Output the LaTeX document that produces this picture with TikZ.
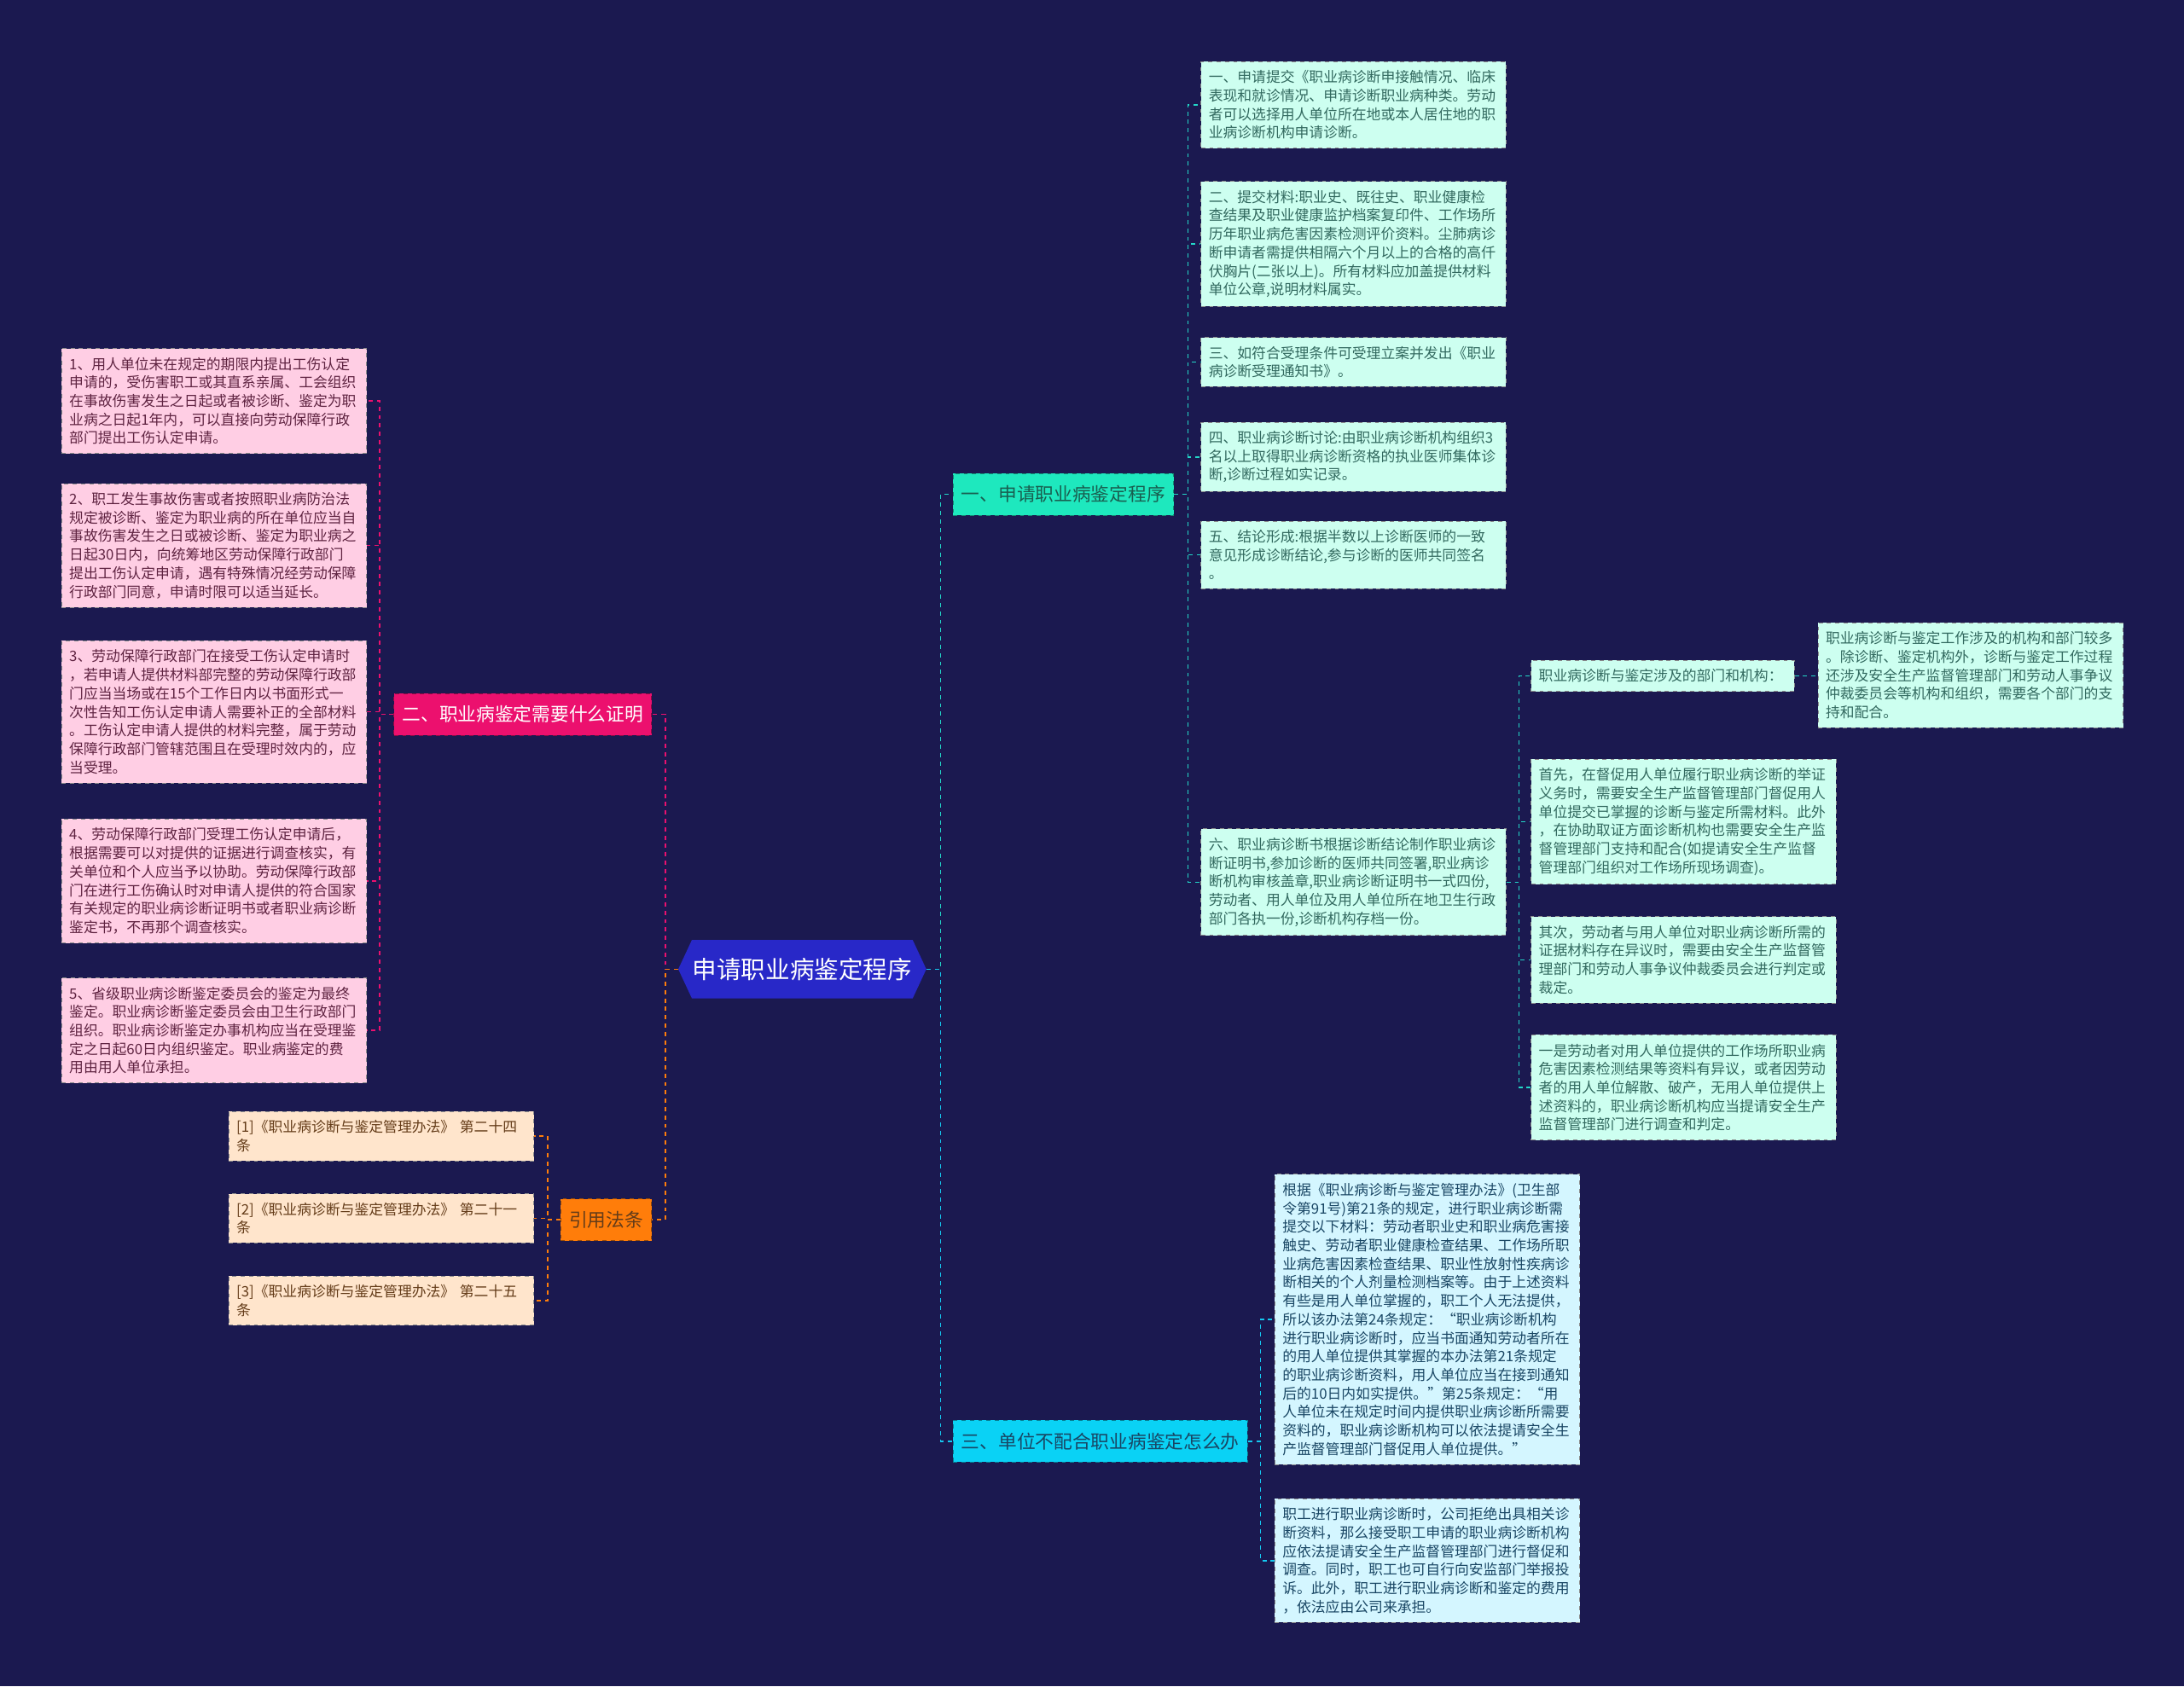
\documentclass[tikz,border=0pt]{standalone}
\usepackage{fontspec}
\setmainfont{Noto Sans CJK SC}
\usetikzlibrary{shapes.symbols}
\definecolor{bgnavy}{RGB}{27,25,80}
\definecolor{rootblue}{RGB}{40,40,200}
\definecolor{tealfill}{RGB}{30,232,190}
\definecolor{tealtext}{RGB}{25,95,80}
\definecolor{tealleaf}{RGB}{205,255,240}
\definecolor{leaftext}{RGB}{50,105,95}
\definecolor{tealline}{RGB}{35,215,200}
\definecolor{pinkfill}{RGB}{236,16,110}
\definecolor{pinkleaf}{RGB}{255,206,228}
\definecolor{pinktext}{RGB}{95,35,65}
\definecolor{orangefill}{RGB}{255,125,10}
\definecolor{peachleaf}{RGB}{255,229,204}
\definecolor{browntext}{RGB}{100,60,25}
\definecolor{cyanfill}{RGB}{10,210,245}
\definecolor{cyanleaf}{RGB}{212,246,255}
\definecolor{cyantext}{RGB}{25,70,100}
\definecolor{cyanline}{RGB}{20,200,240}

\begin{document}
\begin{tikzpicture}[x=1pt, y=-1pt]
    \tikzstyle{root}=[signal, signal to=east and west, signal pointer angle=130, fill=rootblue, text=white, font=\fontsize{17.5}{20}\selectfont, minimum height=42pt, inner xsep=0.5pt]
    \tikzstyle{topic}=[draw, dashed, rectangle, minimum height=30pt, inner xsep=6pt, inner ysep=0pt, line width=0.5pt, font=\fontsize{13.3}{16}\selectfont]
    \tikzstyle{leaf}=[draw=black!45, dashed, rectangle, anchor=north west, text width=208pt, inner xsep=5.5pt, inner ysep=6.3pt, line width=0.5pt, align=left, font=\fontsize{10.3}{13.3}\selectfont]
    \tikzstyle{tealbox}=[leaf, fill=tealleaf, text=leaftext]
    \tikzstyle{cyanbox}=[leaf, fill=cyanleaf, text=cyantext]
    \tikzstyle{pinkbox}=[leaf, fill=pinkleaf, text=pinktext]
    \tikzstyle{peachbox}=[leaf, fill=peachleaf, text=browntext]
    \tikzstyle{link}=[dashed, line width=0.9pt]

    \fill[bgnavy] (0,0) rectangle (1568,1211);
    \useasboundingbox (0,0) rectangle (1568,1211);

    \node[root] (root) at (576,696) {申请职业病鉴定程序};

    \node[topic, fill=tealfill, draw=tealfill!60!black, text=tealtext, anchor=west] (proc) at (684,355) {一、申请职业病鉴定程序};
    \node[topic, fill=pinkfill, draw=pinkfill!60!black, text=white, anchor=east] (proof) at (468,513) {二、职业病鉴定需要什么证明};
    \node[topic, fill=orangefill, draw=orangefill!60!black, text=browntext, anchor=east] (laws) at (468,876) {引用法条};
    \node[topic, fill=cyanfill, draw=cyanfill!60!black, text=cyantext, anchor=west] (refuse) at (684,1035) {三、单位不配合职业病鉴定怎么办};

    \node[tealbox] (p1) at (862,44) {一、申请提交《职业病诊断申接触情况、临床\\表现和就诊情况、申请诊断职业病种类。劳动\\者可以选择用人单位所在地或本人居住地的职\\业病诊断机构申请诊断。};
    \node[tealbox] (p2) at (862,130) {二、提交材料:职业史、既往史、职业健康检\\查结果及职业健康监护档案复印件、工作场所\\历年职业病危害因素检测评价资料。尘肺病诊\\断申请者需提供相隔六个月以上的合格的高仟\\伏胸片(二张以上)。所有材料应加盖提供材料\\单位公章,说明材料属实。};
    \node[tealbox] (p3) at (862,242) {三、如符合受理条件可受理立案并发出《职业\\病诊断受理通知书》。};
    \node[tealbox] (p4) at (862,303) {四、职业病诊断讨论:由职业病诊断机构组织3\\名以上取得职业病诊断资格的执业医师集体诊\\断,诊断过程如实记录。};
    \node[tealbox] (p5) at (862,374) {五、结论形成:根据半数以上诊断医师的一致\\意见形成诊断结论,参与诊断的医师共同签名\\。};
    \node[tealbox] (p6) at (862,595) {六、职业病诊断书根据诊断结论制作职业病诊\\断证明书,参加诊断的医师共同签署,职业病诊\\断机构审核盖章,职业病诊断证明书一式四份,\\劳动者、用人单位及用人单位所在地卫生行政\\部门各执一份,诊断机构存档一份。};

    \node[tealbox, text width=178pt] (s1) at (1099,474) {职业病诊断与鉴定涉及的部门和机构：};
    \node[tealbox] (o1) at (1305,447) {职业病诊断与鉴定工作涉及的机构和部门较多\\。除诊断、鉴定机构外，诊断与鉴定工作过程\\还涉及安全生产监督管理部门和劳动人事争议\\仲裁委员会等机构和组织，需要各个部门的支\\持和配合。};
    \node[tealbox] (s2) at (1099,545) {首先，在督促用人单位履行职业病诊断的举证\\义务时，需要安全生产监督管理部门督促用人\\单位提交已掌握的诊断与鉴定所需材料。此外\\，在协助取证方面诊断机构也需要安全生产监\\督管理部门支持和配合(如提请安全生产监督\\管理部门组织对工作场所现场调查)。};
    \node[tealbox] (s3) at (1099,658) {其次，劳动者与用人单位对职业病诊断所需的\\证据材料存在异议时，需要由安全生产监督管\\理部门和劳动人事争议仲裁委员会进行判定或\\裁定。};
    \node[tealbox] (s4) at (1099,743) {一是劳动者对用人单位提供的工作场所职业病\\危害因素检测结果等资料有异议，或者因劳动\\者的用人单位解散、破产，无用人单位提供上\\述资料的，职业病诊断机构应当提请安全生产\\监督管理部门进行调查和判定。};

    \node[cyanbox] (r1) at (915,843) {根据《职业病诊断与鉴定管理办法》(卫生部\\令第91号)第21条的规定，进行职业病诊断需\\提交以下材料：劳动者职业史和职业病危害接\\触史、劳动者职业健康检查结果、工作场所职\\业病危害因素检查结果、职业性放射性疾病诊\\断相关的个人剂量检测档案等。由于上述资料\\有些是用人单位掌握的，职工个人无法提供，\\所以该办法第24条规定：“职业病诊断机构\\进行职业病诊断时，应当书面通知劳动者所在\\的用人单位提供其掌握的本办法第21条规定\\的职业病诊断资料，用人单位应当在接到通知\\后的10日内如实提供。”第25条规定：“用\\人单位未在规定时间内提供职业病诊断所需要\\资料的，职业病诊断机构可以依法提请安全生\\产监督管理部门督促用人单位提供。”};
    \node[cyanbox] (r2) at (915,1076) {职工进行职业病诊断时，公司拒绝出具相关诊\\断资料，那么接受职工申请的职业病诊断机构\\应依法提请安全生产监督管理部门进行督促和\\调查。同时，职工也可自行向安监部门举报投\\诉。此外，职工进行职业病诊断和鉴定的费用\\，依法应由公司来承担。};

    \node[pinkbox] (q1) at (44,250) {1、用人单位未在规定的期限内提出工伤认定\\申请的，受伤害职工或其直系亲属、工会组织\\在事故伤害发生之日起或者被诊断、鉴定为职\\业病之日起1年内，可以直接向劳动保障行政\\部门提出工伤认定申请。};
    \node[pinkbox] (q2) at (44,347) {2、职工发生事故伤害或者按照职业病防治法\\规定被诊断、鉴定为职业病的所在单位应当自\\事故伤害发生之日或被诊断、鉴定为职业病之\\日起30日内，向统筹地区劳动保障行政部门\\提出工伤认定申请，遇有特殊情况经劳动保障\\行政部门同意，申请时限可以适当延长。};
    \node[pinkbox] (q3) at (44,460) {3、劳动保障行政部门在接受工伤认定申请时\\，若申请人提供材料部完整的劳动保障行政部\\门应当当场或在15个工作日内以书面形式一\\次性告知工伤认定申请人需要补正的全部材料\\。工伤认定申请人提供的材料完整，属于劳动\\保障行政部门管辖范围且在受理时效内的，应\\当受理。};
    \node[pinkbox] (q4) at (44,588) {4、劳动保障行政部门受理工伤认定申请后，\\根据需要可以对提供的证据进行调查核实，有\\关单位和个人应当予以协助。劳动保障行政部\\门在进行工伤确认时对申请人提供的符合国家\\有关规定的职业病诊断证明书或者职业病诊断\\鉴定书，不再那个调查核实。};
    \node[pinkbox] (q5) at (44,702) {5、省级职业病诊断鉴定委员会的鉴定为最终\\鉴定。职业病诊断鉴定委员会由卫生行政部门\\组织。职业病诊断鉴定办事机构应当在受理鉴\\定之日起60日内组织鉴定。职业病鉴定的费\\用由用人单位承担。};

    \node[peachbox] (l1) at (164,798) {[1]《职业病诊断与鉴定管理办法》 第二十四\\条};
    \node[peachbox] (l2) at (164,857) {[2]《职业病诊断与鉴定管理办法》 第二十一\\条};
    \node[peachbox] (l3) at (164,916) {[3]《职业病诊断与鉴定管理办法》 第二十五\\条};

    \draw[link, tealline] (root.east) -- ++(10,0) |- (proc.west);
    \draw[link, cyanline] (root.east) -- ++(10,0) |- (refuse.west);
    \draw[link, pinkfill] (root.west) -- ++(-9,0) |- (proof.east);
    \draw[link, orangefill] (root.west) -- ++(-9,0) |- (laws.east);
    \foreach \n in {p1,p2,p3,p4,p5,p6}
        \draw[link, tealline] (proc.east) -- ++(10,0) |- (\n.west);
    \foreach \n in {s1,s2,s3,s4}
        \draw[link, tealline] (p6.east) -- ++(9,0) |- (\n.west);
    \draw[link, tealline] (s1.east) -- (s1.east -| o1.west);
    \foreach \n in {r1,r2}
        \draw[link, cyanline] (refuse.east) -- ++(9,0) |- (\n.west);
    \foreach \n in {q1,q2,q3,q4,q5}
        \draw[link, pinkfill] (proof.west) -- ++(-10,0) |- (\n.east);
    \foreach \n in {l1,l2,l3}
        \draw[link, orangefill] (laws.west) -- ++(-9,0) |- (\n.east);
\end{tikzpicture}
\end{document}
